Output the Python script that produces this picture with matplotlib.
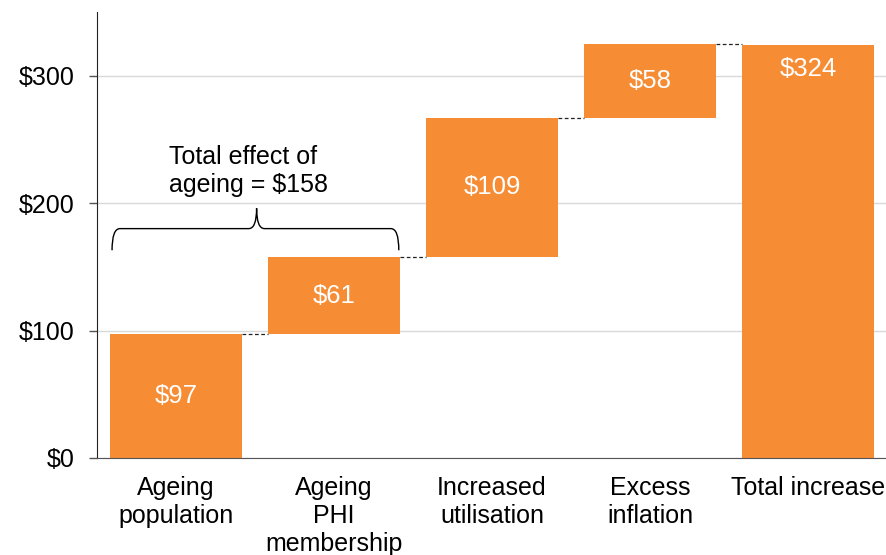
import matplotlib
matplotlib.use("Agg")
import matplotlib.pyplot as plt
from matplotlib.path import Path
from matplotlib.patches import PathPatch

categories = ["Ageing\npopulation", "Ageing\nPHI\nmembership", "Increased\nutilisation",
              "Excess\ninflation", "Total increase"]
increments = [97, 61, 109, 58]
total = 324
bar_labels = ["$97", "$61", "$109", "$58", "$324"]
ytick_vals = [0, 100, 200, 300]
ytick_labels = ["$0", "$100", "$200", "$300"]
brace_text = "Total effect of\nageing = $158"

plt.rcParams['font.family'] = ['Liberation Sans', 'DejaVu Sans']
ORANGE = "#F68D35"
FS = 18

fig = plt.figure(figsize=(8.87, 5.55), dpi=100)
ax = fig.add_axes([0.1094, 0.1748, 0.8906, 0.8036])

width = 0.835
bottoms = []
acc = 0
for v in increments:
    bottoms.append(acc)
    acc += v
heights = increments + [total]
bottoms = bottoms + [0]
xs = list(range(len(categories)))

ax.bar(xs, heights, bottom=bottoms, width=width, color=ORANGE, zorder=2)

# connectors
tops = [b + h for b, h in zip(bottoms, heights)]
for i in range(len(xs) - 1):
    ax.plot([xs[i] + width / 2, xs[i + 1] - width / 2], [tops[i], tops[i]],
            ls=(0, (3, 2)), color="#222222", lw=0.9, zorder=3)

# labels
for i, (b, h) in enumerate(zip(bottoms, heights)):
    if i == len(xs) - 1:
        y = b + h - 19
    else:
        y = b + h / 2
    ax.text(xs[i], y, bar_labels[i], ha="center", va="center", color="white",
            fontsize=FS + 0.5, zorder=4)

# brace
x0, x1, xc = -0.405, 1.41, 0.51
yh, yend, ytip = 180, 163, 196
dx = 0.05
verts = [(x0, yend), (x0, yh), (x0 + dx, yh),
         (xc - dx, yh), (xc, yh), (xc, ytip),
         (xc, yh), (xc + dx, yh),
         (x1 - dx, yh), (x1, yh), (x1, yend)]
codes = [Path.MOVETO, Path.CURVE3, Path.CURVE3,
         Path.LINETO, Path.CURVE3, Path.CURVE3,
         Path.CURVE3, Path.CURVE3,
         Path.LINETO, Path.CURVE3, Path.CURVE3]
ax.add_patch(PathPatch(Path(verts, codes), fill=False, lw=1.0, color="black", zorder=3))
ax.text(-0.045, 225, brace_text, ha="left", va="center", fontsize=FS,
        multialignment="left", linespacing=1.2)

ax.set_xlim(-0.5, 4.5)
ax.set_ylim(0, 350)
ax.set_yticks(ytick_vals)
ax.set_yticklabels(ytick_labels, fontsize=FS)
ax.set_xticks(xs)
ax.set_xticklabels(categories, fontsize=FS, linespacing=1.22)
ax.tick_params(axis="x", length=0, pad=13)
ax.tick_params(axis="y", length=6, width=1, color="#555555", pad=10)
ax.yaxis.grid(True, color="#D9D9D9", lw=1, zorder=0)
ax.set_axisbelow(True)
for s in ["top", "right"]:
    ax.spines[s].set_visible(False)
ax.spines["left"].set_color("#222222")
ax.spines["bottom"].set_color("#555555")

fig.savefig("out.png", dpi=100)
